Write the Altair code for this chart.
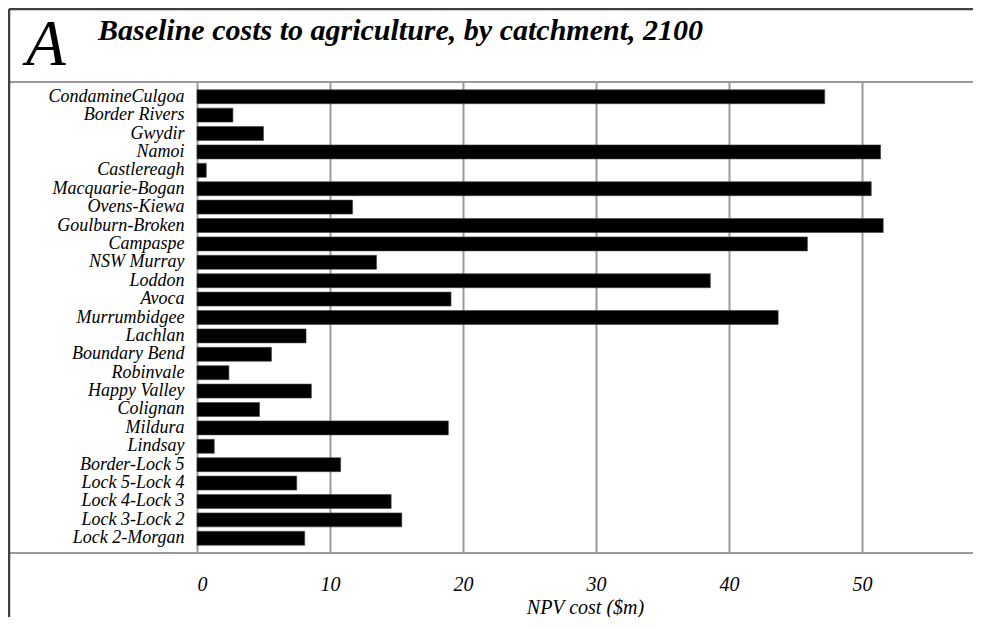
import altair as alt
import pandas as pd

catchments = [
    "CondamineCulgoa", "Border Rivers", "Gwydir", "Namoi", "Castlereagh",
    "Macquarie-Bogan", "Ovens-Kiewa", "Goulburn-Broken", "Campaspe", "NSW Murray",
    "Loddon", "Avoca", "Murrumbidgee", "Lachlan", "Boundary Bend", "Robinvale",
    "Happy Valley", "Colignan", "Mildura", "Lindsay", "Border-Lock 5",
    "Lock 5-Lock 4", "Lock 4-Lock 3", "Lock 3-Lock 2", "Lock 2-Morgan",
]
costs = [
    47.2, 2.7, 5.0, 51.4, 0.7,
    50.7, 11.7, 51.6, 45.9, 13.5,
    38.6, 19.1, 43.7, 8.2, 5.6, 2.4,
    8.6, 4.7, 18.9, 1.3, 10.8,
    7.5, 14.6, 15.4, 8.1,
]
x_ticks = [0, 10, 20, 30, 40, 50]
panel_letter = "A"
title_text = "Baseline costs to agriculture, by catchment, 2100"
x_title = "NPV cost ($m)"

df = pd.DataFrame({"catchment": catchments, "cost": costs})
one = pd.DataFrame({"k": [0]})

W, H = 776, 471
PL, PT, PB = 189, 74, 64
FONT = "Liberation Serif"

bars = alt.Chart(df).mark_bar(color="black", stroke="#444", strokeWidth=0.6).encode(
    x=alt.X(
        "cost:Q",
        scale=alt.Scale(domain=[0, 58.35], nice=False, zero=True),
        axis=alt.Axis(
            values=x_ticks, title=x_title, grid=True, gridColor="#9a9a9a", gridWidth=2,
            domain=False, ticks=False, labelFont=FONT, labelFontStyle="italic",
            labelFontSize=20, labelColor="black", labelPadding=21,
            titleFont=FONT, titleFontStyle="italic", titleFontWeight="normal",
            titleFontSize=20, titleColor="black", titlePadding=3,
        ),
    ),
    y=alt.Y(
        "catchment:N", sort=catchments,
        scale=alt.Scale(paddingInner=0.24, paddingOuter=0.42),
        axis=alt.Axis(
            title=None, domain=False, ticks=False, grid=False, labelFont=FONT,
            labelFontStyle="italic", labelFontSize=18, labelColor="black",
            labelPadding=13, labelLimit=300,
        ),
    ),
)

rule_plot_top = alt.Chart(one).mark_rule(color="#9a9a9a", strokeWidth=2).encode(
    x=alt.value(-PL + 1), x2=alt.value(W), y=alt.value(0))
rule_plot_bottom = alt.Chart(one).mark_rule(color="#9a9a9a", strokeWidth=2).encode(
    x=alt.value(-PL + 1), x2=alt.value(W), y=alt.value(H))
frame_left = alt.Chart(one).mark_rule(color="#404040", strokeWidth=2.5).encode(
    x=alt.value(-PL + 1), y=alt.value(-PT + 1), y2=alt.value(H + PB))
frame_top = alt.Chart(one).mark_rule(color="#404040", strokeWidth=2.5).encode(
    x=alt.value(-PL + 1), x2=alt.value(W), y=alt.value(-PT + 1))

letter = alt.Chart(pd.DataFrame({"t": [panel_letter]})).mark_text(
    font=FONT, fontStyle="italic", fontSize=65, align="left", baseline="alphabetic",
    color="black",
).encode(text="t:N", x=alt.value(-171), y=alt.value(-17))

title = alt.Chart(pd.DataFrame({"t": [title_text]})).mark_text(
    font=FONT, fontStyle="italic", fontWeight="bold", fontSize=30, align="left",
    baseline="alphabetic", color="black",
).encode(text="t:N", x=alt.value(-99), y=alt.value(-42))

chart = alt.layer(
    bars, rule_plot_top, rule_plot_bottom, frame_left, frame_top, letter, title
).properties(
    width=W, height=H,
    autosize=alt.AutoSizeParams(type="none"),
    padding={"left": PL, "top": PT, "right": 0, "bottom": PB},
).configure_view(stroke=None)

chart.save("out.html", embed_options={"renderer": "svg", "actions": False})
